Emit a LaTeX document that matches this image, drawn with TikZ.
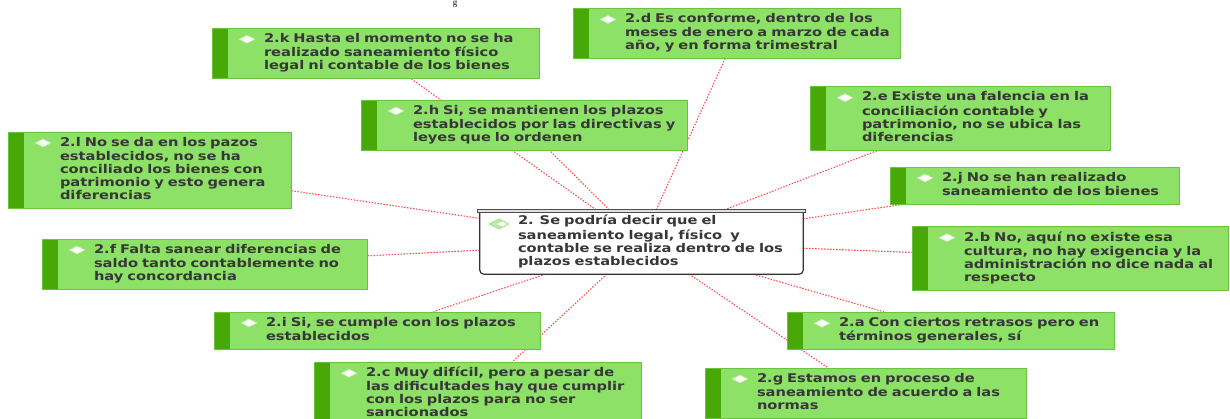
\documentclass[tikz,border=0pt]{standalone}
\usepackage{fontspec}
\usepackage{tikz}
\usetikzlibrary{backgrounds}
\newfontfamily\boxfont[FakeStretch=1.22]{DejaVu Sans}
\newfontfamily\capfont{Liberation Serif}
\definecolor{leafgreen}{RGB}{140,225,102}
\definecolor{leafdark}{RGB}{72,168,8}
\definecolor{leafline}{RGB}{104,196,60}
\definecolor{linkred}{RGB}{255,70,70}
\definecolor{textgray}{RGB}{55,55,55}
\tikzset{
  leaf/.style={draw=leafline, line width=0.8pt, fill=leafgreen, inner sep=0pt, inner ysep=5pt,
    align=left, text=textgray, font={\boxfont\bfseries\fontsize{12pt}{13pt}\selectfont},
    execute at begin node={\leftskip=52pt\strut}, execute at end node={\strut},
    path picture={
      \fill[leafdark] (path picture bounding box.north west) rectangle ([xshift=16pt]path picture bounding box.south west);
      \filldraw[fill=white!92!leafgreen, draw=leafline!40!white, line width=0.6pt]
        ([xshift=35pt,yshift=-11pt]path picture bounding box.north west) +(-8pt,0) -- +(0,4pt) -- +(8pt,0) -- +(0,-4pt) -- cycle;
    }},
  hub/.style={fill=white, inner sep=0pt, inner ysep=5pt, text width=323pt,
    align=left, text=textgray, font={\boxfont\bfseries\fontsize{12pt}{13pt}\selectfont},
    execute at begin node={\leftskip=38pt\strut}, execute at end node={\strut},
    path picture={
      \filldraw[fill=leafgreen!60!white, draw=leafline!70!white, line width=0.6pt]
        ([xshift=19pt,yshift=-14pt]path picture bounding box.north west) +(-10pt,0) -- +(0,5pt) -- +(10pt,0) -- +(0,-5pt) -- cycle;
      \filldraw[fill=white, draw=leafline!50!white, line width=0.5pt]
        ([xshift=22pt,yshift=-14pt]path picture bounding box.north west) +(-6pt,0) -- +(0,3pt) -- +(6pt,0) -- +(0,-3pt) -- cycle;
    }},
  link/.style={draw=linkred, line width=1.1pt, dash pattern=on 1.4pt off 1.6pt}
}
\begin{document}
\begin{tikzpicture}[x=1pt,y=-1pt]
\useasboundingbox (0,0) rectangle (1230,419);
% caption remnant
\node[font={\capfont\fontsize{9pt}{10pt}\selectfont}, anchor=north, inner sep=0pt] (capg) at (455,0.5) {g};
% CENTRE
\node[hub] (hub) at (641.5,242) {2. Se podría decir que el\\saneamiento legal, físico~ y\\contable se realiza dentro de los\\plazos establecidos};
\draw[line width=1.2pt, black!80, rounded corners=4pt] (hub.north west) -- (hub.south west) -- (hub.south east) -- (hub.north east);
\draw[fill=black!12, draw=black!70, line width=0.8pt] ([xshift=-2pt]hub.north west) rectangle ([xshift=2pt,yshift=-3pt]hub.north east);
% TOP
\node[leaf, text width=327pt] (k) at (375.5,53.5) {2.k Hasta el momento no se ha\\realizado saneamiento físico\\legal ni contable de los bienes};
\node[leaf, text width=327pt] (d) at (736.5,33.5) {2.d Es conforme, dentro de los\\meses de enero a marzo de cada\\año, y en forma trimestral};
\node[leaf, text width=326pt] (h) at (524,125) {2.h Si, se mantienen los plazos\\establecidos por las directivas y\\leyes que lo ordenen};
\node[leaf, text width=300pt] (e) at (960,118.5) {2.e Existe una falencia en la\\conciliación contable y\\patrimonio, no se ubica las\\diferencias};
% LEFT
\node[leaf, text width=283pt] (l) at (149.5,170) {2.l No se da en los pazos\\establecidos, no se ha\\conciliado los bienes con\\patrimonio y esto genera\\diferencias};
\node[leaf, text width=325pt] (f) at (204.5,264) {2.f Falta sanear diferencias de\\saldo tanto contablemente no\\hay concordancia};
% RIGHT
\node[leaf, text width=289pt] (j) at (1034.5,185.5) {2.j No se han realizado\\saneamiento de los bienes};
\node[leaf, text width=316pt] (b) at (1070,258.5) {2.b No, aquí no existe esa\\cultura, no hay exigencia y la\\administración no dice nada al\\respecto};
% BOT
\node[leaf, text width=326pt] (i) at (377,330.5) {2.i Si, se cumple con los plazos\\establecidos};
\node[leaf, text width=327pt] (c) at (477.5,394) {2.c Muy difícil, pero a pesar de\\las dificultades hay que cumplir\\con los plazos para no ser\\sancionados};
\node[leaf, text width=327pt] (a) at (950.5,331) {2.a Con ciertos retrasos pero en\\términos generales, sí};
\node[leaf, text width=321pt] (g) at (865.5,393) {2.g Estamos en proceso de\\saneamiento de acuerdo a las\\normas};
% Links
\begin{scope}[on background layer]
\draw[link] (hub) -- (k);
\draw[link] (hub) -- (d);
\draw[link] (hub) -- (h);
\draw[link] (hub) -- (e);
\draw[link] (hub) -- (l);
\draw[link] (hub) -- (f);
\draw[link] (hub) -- (j);
\draw[link] (hub) -- (b);
\draw[link] (hub) -- (i);
\draw[link] (hub) -- (c);
\draw[link] (hub) -- (a);
\draw[link] (hub) -- (g);
\end{scope}
\end{tikzpicture}
\end{document}
